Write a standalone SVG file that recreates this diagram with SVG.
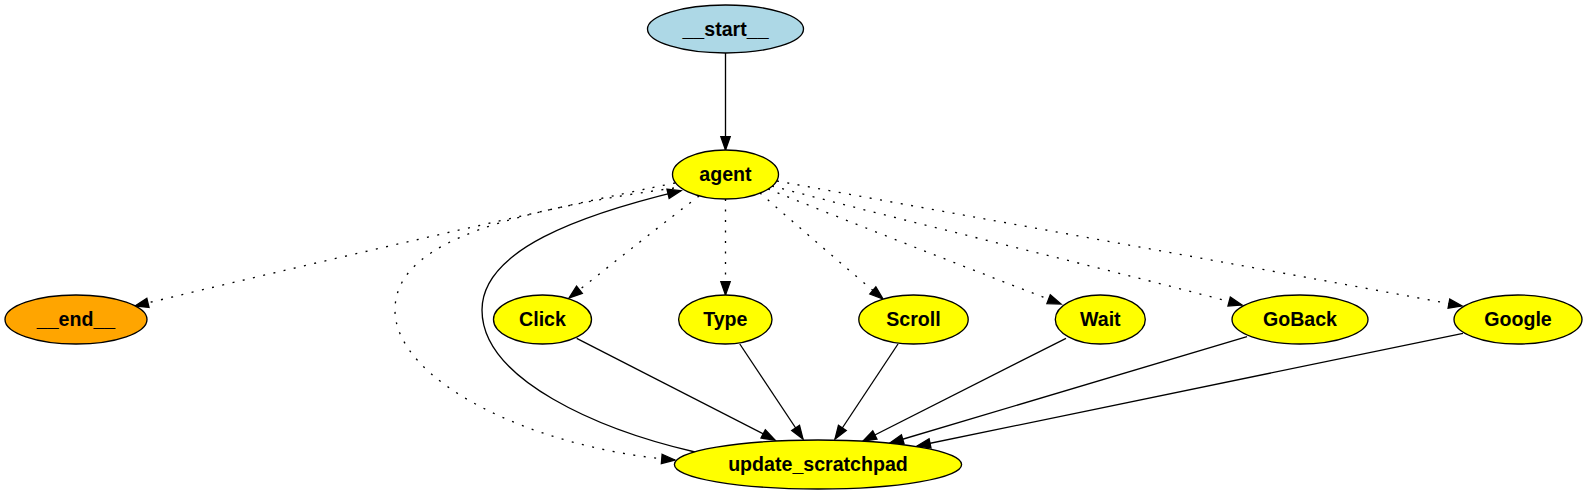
<svg xmlns="http://www.w3.org/2000/svg" width="1588" height="495" viewBox="0 0 1588 495">
<style>
  .node ellipse { stroke: #000; stroke-width: 1.33; }
  .node text { font-family: "Liberation Sans", Arial, Helvetica, sans-serif; font-weight: bold; font-size: 19.6px; fill: #000; text-anchor: middle; }
  .edge { fill: none; stroke: #000; stroke-width: 1.33; }
  .dotted { stroke-dasharray: 2 8.5; }
  .solid { marker-end: url(#arrow); }
  .dotted { marker-end: url(#arrow); }
</style>
<defs>
  <marker id="arrow" markerUnits="userSpaceOnUse" markerWidth="16" markerHeight="12" refX="13.3" refY="4.67" orient="auto" overflow="visible">
    <path d="M0,0 L13.3,4.67 L0,9.33 Z" fill="#000" stroke="#000" stroke-width="1.33" stroke-dasharray="none"/>
  </marker>
</defs>
<rect width="1588" height="495" fill="#fff"/>
<g id="connectors">
  <path class="edge solid" d="M725.5,53 L725.5,150"/>
  <path class="edge dotted" d="M675,183 C560,206 300,266 135,306"/>
  <path class="edge dotted" d="M674,188 C480,215 395,250 395,310 C395,380 530,448 675,460"/>
  <path class="edge solid" d="M695,452 C600,430 482,380 482,310 C482,250 580,215 681,190.7"/>
  <path class="edge dotted" d="M699,196 C670,218 612,264 569,298"/>
  <path class="edge dotted" d="M725.5,199 L725.5,295"/>
  <path class="edge dotted" d="M760,193 C800,228 845,267 883,299"/>
  <path class="edge dotted" d="M768,189 C860,226 960,265 1061,304"/>
  <path class="edge dotted" d="M772,186 C920,225 1080,262 1242,305"/>
  <path class="edge dotted" d="M777,181 C1000,222 1230,263 1462,306"/>
  <path class="edge solid" d="M576.7,338.3 L775,440"/>
  <path class="edge solid" d="M739.8,344 L803,439"/>
  <path class="edge solid" d="M898,344 L835,439"/>
  <path class="edge solid" d="M1066,338.3 L863,441"/>
  <path class="edge solid" d="M1247,336.7 L890,443"/>
  <path class="edge solid" d="M1463,333.3 L917,446"/>
</g>
<g id="node-start" class="node">
  <ellipse cx="725.5" cy="29" rx="78" ry="24" fill="#add8e6"/>
  <text x="725.5" y="35.8">__start__</text>
</g>
<g id="node-agent" class="node">
  <ellipse cx="725.5" cy="174.5" rx="53" ry="24.5" fill="#ffff00"/>
  <text x="725.5" y="181.3">agent</text>
</g>
<g id="node-end" class="node">
  <ellipse cx="76" cy="319.5" rx="71" ry="24.5" fill="#ffa500"/>
  <text x="76" y="326.3">__end__</text>
</g>
<g id="node-click" class="node">
  <ellipse cx="542.5" cy="319.5" rx="49" ry="24.5" fill="#ffff00"/>
  <text x="542.5" y="326.3">Click</text>
</g>
<g id="node-type" class="node">
  <ellipse cx="725.3" cy="319.5" rx="46.7" ry="24.5" fill="#ffff00"/>
  <text x="725.3" y="326.3">Type</text>
</g>
<g id="node-scroll" class="node">
  <ellipse cx="913.5" cy="319.5" rx="54.7" ry="24.5" fill="#ffff00"/>
  <text x="913.5" y="326.3">Scroll</text>
</g>
<g id="node-wait" class="node">
  <ellipse cx="1100.3" cy="319.5" rx="45" ry="24.5" fill="#ffff00"/>
  <text x="1100.3" y="326.3">Wait</text>
</g>
<g id="node-goback" class="node">
  <ellipse cx="1300" cy="319.5" rx="68" ry="24.5" fill="#ffff00"/>
  <text x="1300" y="326.3">GoBack</text>
</g>
<g id="node-google" class="node">
  <ellipse cx="1518" cy="319.5" rx="64" ry="24.5" fill="#ffff00"/>
  <text x="1518" y="326.3">Google</text>
</g>
<g id="node-update_scratchpad" class="node">
  <ellipse cx="818" cy="464.5" rx="143.6" ry="24.5" fill="#ffff00"/>
  <text x="818" y="471.3">update_scratchpad</text>
</g>
</svg>
